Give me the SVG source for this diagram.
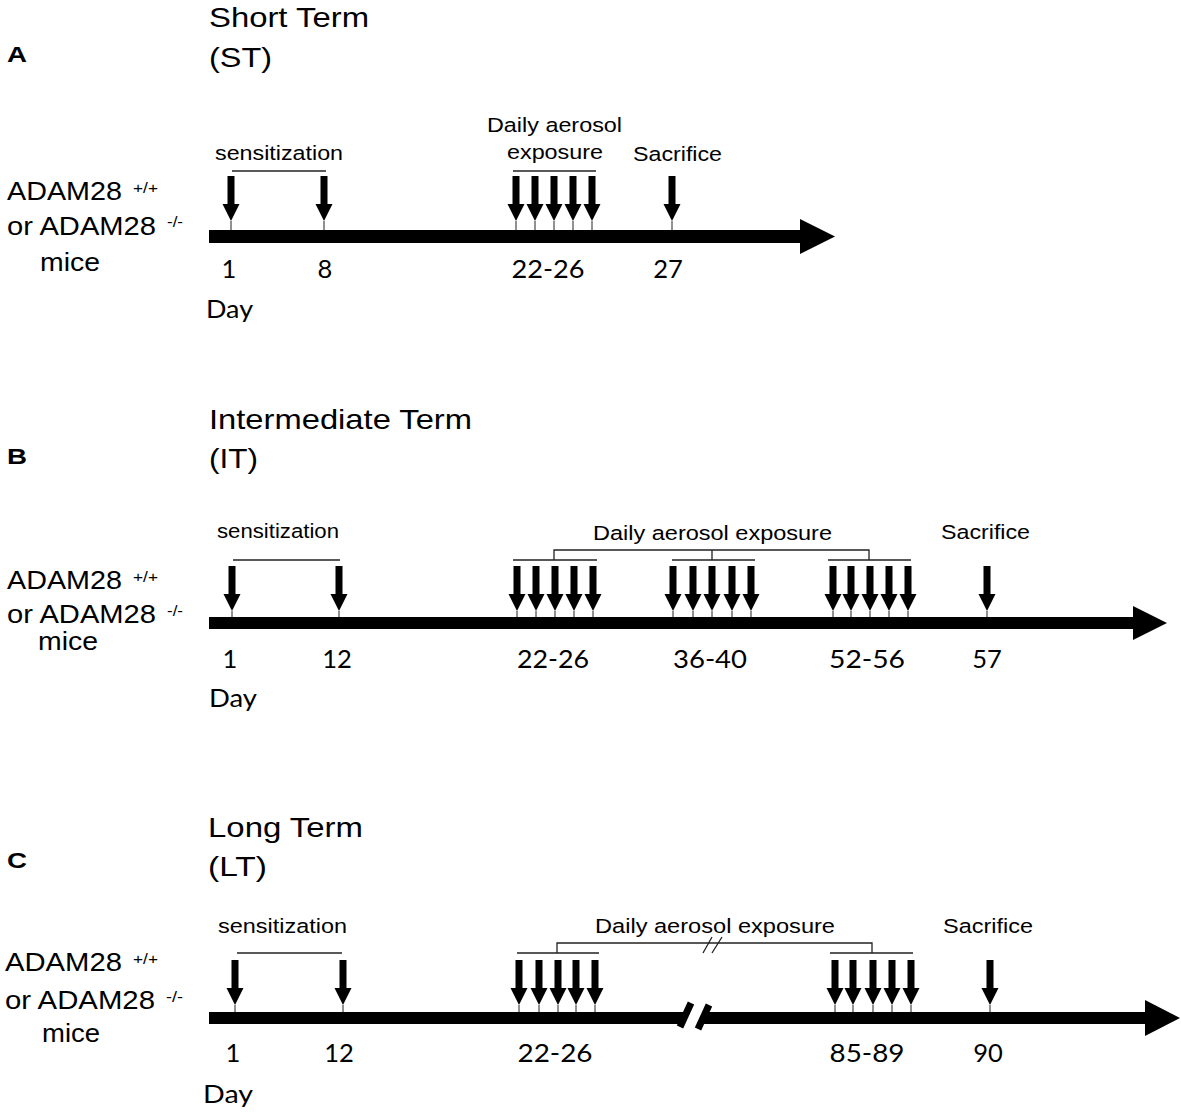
<svg xmlns="http://www.w3.org/2000/svg" xmlns:xlink="http://www.w3.org/1999/xlink" width="1181" height="1113" viewBox="0 0 1181 1113">
<style>
.t{font-family:"Liberation Sans",Arial,sans-serif;fill:#000}
.title{font-size:28.5px}
.lab{font-size:25.5px}
.sup{font-size:15px}
.small{font-size:20.5px}
.pl{font-size:22px;font-weight:bold}
.num{font-family:Lato,"Open Sans",sans-serif;font-size:25.5px;fill:#000;text-anchor:middle}
.day{font-family:Lato,"Open Sans",sans-serif;font-size:25.5px;fill:#000}
.br{stroke:#222;stroke-width:1.3;fill:none}
.tk{stroke:#222;stroke-width:1;fill:none}
.bar{fill:#000}
</style>
<defs>
<path id="arr" d="M-3.5,-45 H3.5 V-17 H8.5 L0,0 L-8.5,-17 H-3.5 Z" fill="#000"/>
</defs>
<rect width="1181" height="1113" fill="#fff"/>

<!-- Panel A -->
<g id="panelA">
<text class="t pl" x="7" y="62" textLength="20" lengthAdjust="spacingAndGlyphs">A</text>
<text class="t title" x="209" y="27" textLength="160" lengthAdjust="spacingAndGlyphs">Short Term</text>
<text class="t title" x="209" y="67" textLength="63" lengthAdjust="spacingAndGlyphs">(ST)</text>
<g id="labelA">
<text class="t lab" x="7" y="200" textLength="115" lengthAdjust="spacingAndGlyphs">ADAM28</text>
<text class="t sup" x="133" y="193" textLength="25" lengthAdjust="spacingAndGlyphs">+/+</text>
<text class="t lab" x="7" y="235" textLength="149" lengthAdjust="spacingAndGlyphs">or ADAM28</text>
<text class="t sup" x="167" y="227" textLength="16" lengthAdjust="spacingAndGlyphs">-/-</text>
<text class="t lab" x="40" y="271" textLength="60" lengthAdjust="spacingAndGlyphs">mice</text>
</g>
<g id="timelineA">
<rect class="bar" x="209" y="230" width="592" height="13"/>
<polygon class="bar" points="800,219 835,236.5 800,254"/>
</g>
<g id="eventsA">
<text class="t small" x="215" y="160" textLength="128" lengthAdjust="spacingAndGlyphs">sensitization</text>
<line class="br" x1="232" y1="171" x2="326" y2="171"/>
<text class="t small" x="487" y="132" textLength="135" lengthAdjust="spacingAndGlyphs">Daily aerosol</text>
<text class="t small" x="507" y="159" textLength="96" lengthAdjust="spacingAndGlyphs">exposure</text>
<line class="br" x1="513" y1="171" x2="596" y2="171"/>
<text class="t small" x="633" y="161" textLength="89" lengthAdjust="spacingAndGlyphs">Sacrifice</text>
</g>
<g id="arrowsA">
<use href="#arr" x="231" y="221"/><use href="#arr" x="324" y="221"/>
<use href="#arr" x="516" y="221"/><use href="#arr" x="535" y="221"/><use href="#arr" x="554" y="221"/><use href="#arr" x="573" y="221"/><use href="#arr" x="592" y="221"/>
<use href="#arr" x="672" y="221"/>
<path class="tk" d="M231,221V230M324,221V230M516,221V230M535,221V230M554,221V230M573,221V230M592,221V230M672,221V230"/>
</g>
<g id="daysA">
<text class="num" x="229" y="278">1</text>
<text class="num" x="325" y="278">8</text>
<text class="num" x="548" y="278" textLength="73" lengthAdjust="spacingAndGlyphs">22-26</text>
<text class="num" x="668" y="278">27</text>
<text class="day" x="206" y="318" textLength="47" lengthAdjust="spacingAndGlyphs">Day</text>
</g>
</g>

<!-- Panel B -->
<g id="panelB">
<text class="t pl" x="7" y="464" textLength="20" lengthAdjust="spacingAndGlyphs">B</text>
<text class="t title" x="209" y="429" textLength="263" lengthAdjust="spacingAndGlyphs">Intermediate Term</text>
<text class="t title" x="209" y="468" textLength="49" lengthAdjust="spacingAndGlyphs">(IT)</text>
<g id="labelB">
<text class="t lab" x="7" y="589" textLength="115" lengthAdjust="spacingAndGlyphs">ADAM28</text>
<text class="t sup" x="133" y="582" textLength="25" lengthAdjust="spacingAndGlyphs">+/+</text>
<text class="t lab" x="7" y="623" textLength="149" lengthAdjust="spacingAndGlyphs">or ADAM28</text>
<text class="t sup" x="167" y="616" textLength="16" lengthAdjust="spacingAndGlyphs">-/-</text>
<text class="t lab" x="38" y="650" textLength="60" lengthAdjust="spacingAndGlyphs">mice</text>
</g>
<g id="timelineB">
<rect class="bar" x="209" y="617" width="925" height="12"/>
<polygon class="bar" points="1133,606 1167,623 1133,640"/>
</g>
<g id="eventsB">
<text class="t small" x="217" y="538" textLength="122" lengthAdjust="spacingAndGlyphs">sensitization</text>
<line class="br" x1="233" y1="560" x2="340" y2="560"/>
<text class="t small" x="593" y="540" textLength="239" lengthAdjust="spacingAndGlyphs">Daily aerosol exposure</text>
<path class="br" d="M513,560H597M672,560H755M828,560H911M554,560V550H869V560M712,550V560"/>
<text class="t small" x="941" y="539" textLength="89" lengthAdjust="spacingAndGlyphs">Sacrifice</text>
</g>
<g id="arrowsB">
<use href="#arr" x="232" y="611"/><use href="#arr" x="339" y="611"/>
<use href="#arr" x="517" y="611"/><use href="#arr" x="536" y="611"/><use href="#arr" x="555" y="611"/><use href="#arr" x="574" y="611"/><use href="#arr" x="593" y="611"/>
<use href="#arr" x="673" y="611"/><use href="#arr" x="693" y="611"/><use href="#arr" x="712" y="611"/><use href="#arr" x="732" y="611"/><use href="#arr" x="751" y="611"/>
<use href="#arr" x="833" y="611"/><use href="#arr" x="851" y="611"/><use href="#arr" x="870" y="611"/><use href="#arr" x="889" y="611"/><use href="#arr" x="908" y="611"/>
<use href="#arr" x="987" y="611"/>
<path class="tk" d="M232,611V617M339,611V617M517,611V617M536,611V617M555,611V617M574,611V617M593,611V617M673,611V617M693,611V617M712,611V617M732,611V617M751,611V617M833,611V617M851,611V617M870,611V617M889,611V617M908,611V617M987,611V617"/>
</g>
<g id="daysB">
<text class="num" x="230" y="668">1</text>
<text class="num" x="337" y="668">12</text>
<text class="num" x="553" y="668" textLength="72" lengthAdjust="spacingAndGlyphs">22-26</text>
<text class="num" x="710" y="668" textLength="74" lengthAdjust="spacingAndGlyphs">36-40</text>
<text class="num" x="867" y="668" textLength="76" lengthAdjust="spacingAndGlyphs">52-56</text>
<text class="num" x="987" y="668">57</text>
<text class="day" x="209" y="707" textLength="48" lengthAdjust="spacingAndGlyphs">Day</text>
</g>
</g>

<!-- Panel C -->
<g id="panelC">
<text class="t pl" x="7" y="868" textLength="20" lengthAdjust="spacingAndGlyphs">C</text>
<text class="t title" x="208" y="837" textLength="155" lengthAdjust="spacingAndGlyphs">Long Term</text>
<text class="t title" x="208" y="876" textLength="59" lengthAdjust="spacingAndGlyphs">(LT)</text>
<g id="labelC">
<text class="t lab" x="5" y="971" textLength="117" lengthAdjust="spacingAndGlyphs">ADAM28</text>
<text class="t sup" x="133" y="964" textLength="25" lengthAdjust="spacingAndGlyphs">+/+</text>
<text class="t lab" x="5" y="1009" textLength="150" lengthAdjust="spacingAndGlyphs">or ADAM28</text>
<text class="t sup" x="166" y="1002" textLength="17" lengthAdjust="spacingAndGlyphs">-/-</text>
<text class="t lab" x="42" y="1042" textLength="58" lengthAdjust="spacingAndGlyphs">mice</text>
</g>
<g id="timelineC">
<polygon class="bar" points="209,1012 689,1012 684,1024 209,1024"/>
<line x1="680" y1="1027" x2="691" y2="1003" stroke="#000" stroke-width="7"/>
<polygon class="bar" points="708,1012 1146,1012 1146,1024 703,1024"/>
<line x1="698" y1="1029" x2="709" y2="1005" stroke="#000" stroke-width="7"/>
<polygon class="bar" points="1145,1000 1180,1018 1145,1036"/>
</g>
<g id="eventsC">
<text class="t small" x="218" y="933" textLength="129" lengthAdjust="spacingAndGlyphs">sensitization</text>
<line class="br" x1="237" y1="953" x2="342" y2="953"/>
<text class="t small" x="595" y="933" textLength="240" lengthAdjust="spacingAndGlyphs">Daily aerosol exposure</text>
<path class="br" d="M517,953H599M830,953H913M557,953V943H872V953"/>
<path class="br" d="M703,953L712,937M712,953L722,937"/>
<text class="t small" x="943" y="933" textLength="90" lengthAdjust="spacingAndGlyphs">Sacrifice</text>
</g>
<g id="arrowsC">
<use href="#arr" x="235" y="1005"/><use href="#arr" x="343" y="1005"/>
<use href="#arr" x="519" y="1005"/><use href="#arr" x="539" y="1005"/><use href="#arr" x="558" y="1005"/><use href="#arr" x="576" y="1005"/><use href="#arr" x="595" y="1005"/>
<use href="#arr" x="835" y="1005"/><use href="#arr" x="853" y="1005"/><use href="#arr" x="873" y="1005"/><use href="#arr" x="892" y="1005"/><use href="#arr" x="911" y="1005"/>
<use href="#arr" x="990" y="1005"/>
<path class="tk" d="M235,1005V1012M343,1005V1012M519,1005V1012M539,1005V1012M558,1005V1012M576,1005V1012M595,1005V1012M835,1005V1012M853,1005V1012M873,1005V1012M892,1005V1012M911,1005V1012M990,1005V1012"/>
</g>
<g id="daysC">
<text class="num" x="233" y="1062">1</text>
<text class="num" x="339" y="1062">12</text>
<text class="num" x="555" y="1062" textLength="75" lengthAdjust="spacingAndGlyphs">22-26</text>
<text class="num" x="867" y="1062" textLength="75" lengthAdjust="spacingAndGlyphs">85-89</text>
<text class="num" x="988" y="1062">90</text>
<text class="day" x="203" y="1103" textLength="50" lengthAdjust="spacingAndGlyphs">Day</text>
</g>
</g>
</svg>
